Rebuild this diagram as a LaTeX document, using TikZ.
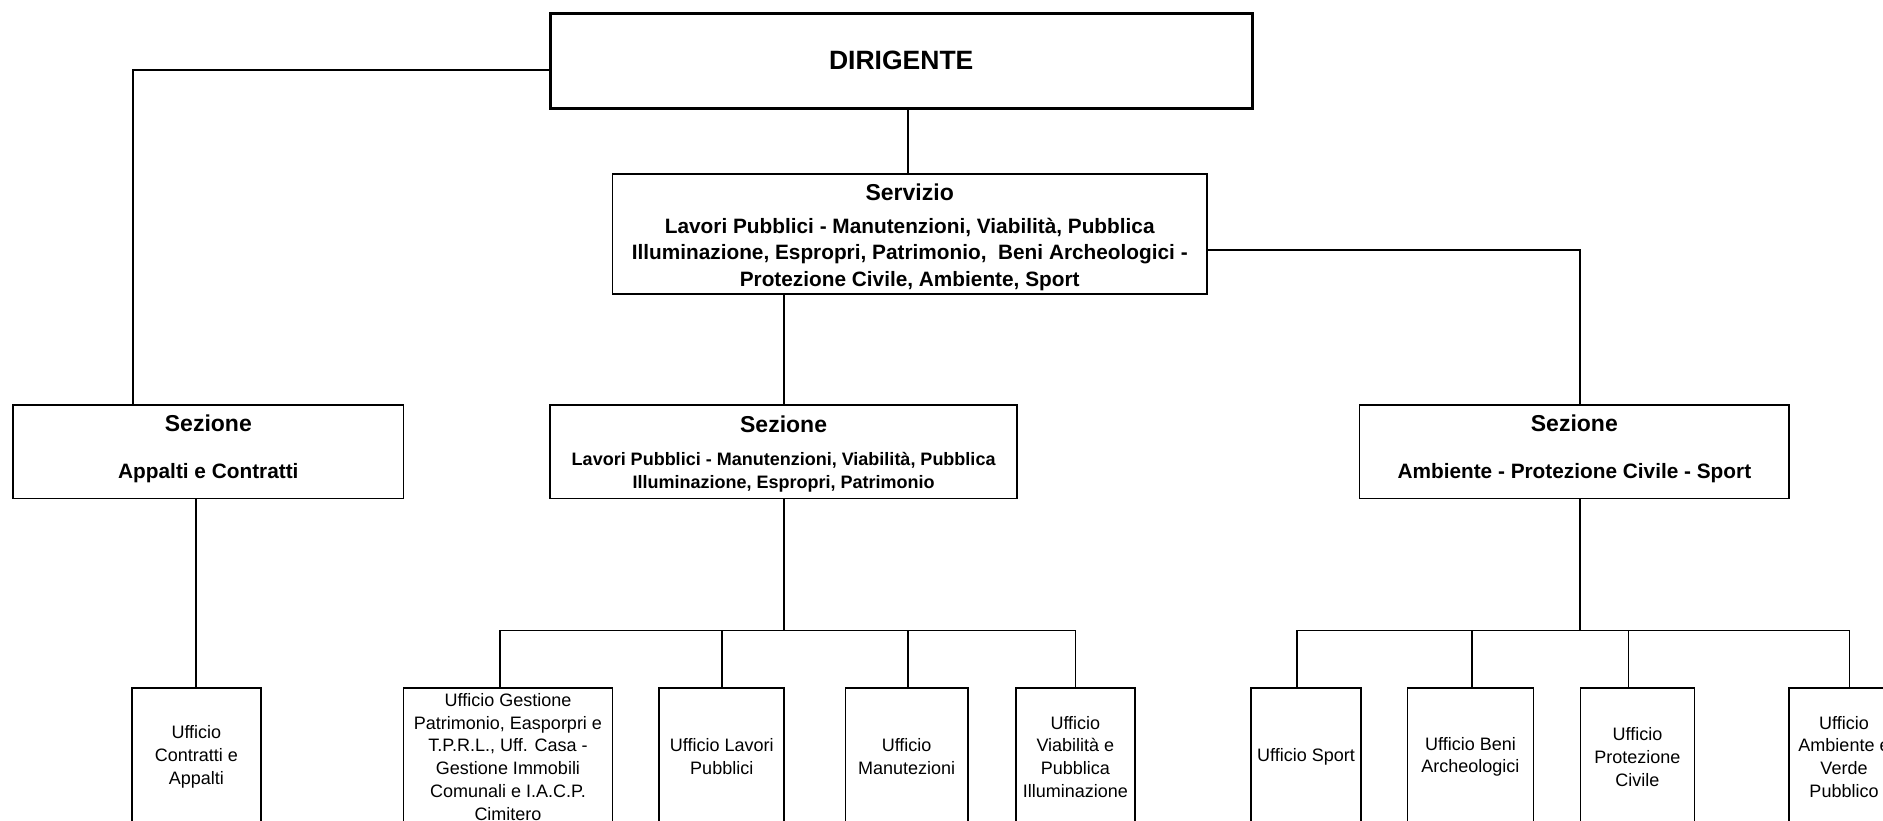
\documentclass[tikz,border=0pt]{standalone}
\usepackage{fontspec}
\setmainfont{Liberation Sans}
\newcommand\boxtitle[1]{{\fontsize{23}{26}\selectfont #1}}
\begin{document}
\begin{tikzpicture}[x=1pt,y=-1pt,
  box/.style={draw, line width=1.8pt, inner sep=0pt, align=center},
  dirbox/.style={box, line width=3pt, font=\fontsize{26.5}{30}\selectfont\bfseries},
  servbox/.style={box, font=\fontsize{20.8}{26.2}\selectfont\bfseries},
  sezbox/.style={box, minimum height=93.7pt, font=\fontsize{20.8}{26.2}\selectfont\bfseries},
  sezsmall/.style={sezbox, font=\fontsize{18}{22.6}\selectfont\bfseries},
  uff/.style={box, minimum height=137.4pt, font=\fontsize{18}{22.8}\selectfont},
  conn/.style={line width=1.8pt}]
\useasboundingbox (0,0) rectangle (1883,821);
\fill[white] (0,0) rectangle (1883,821);
\clip (0,0) rectangle (1883,821);

% top level
\node[dirbox, minimum width=702.5pt, minimum height=94.9pt] (dir) at (901.25,60.65) {DIRIGENTE};
\node[servbox, minimum width=594.4pt, minimum height=120.1pt] (serv) at (909.7,234.15)
  {\boxtitle{\rule{0pt}{22.8pt}Servizio}\\[6.8pt]
   Lavori Pubblici - Manutenzioni, Viabilità, Pubblica\\
   Illuminazione, Espropri, Patrimonio, \ Beni Archeologici -\\
   Protezione Civile, Ambiente, Sport};

% sezioni
\node[sezbox, minimum width=390.3pt] (sezApp) at (208.35,451.55)
  {\boxtitle{Sezione}\\[20.9pt] Appalti e Contratti\rule[-9.1pt]{0pt}{0pt}};
\node[sezsmall, minimum width=467.2pt] (sezLP) at (783.6,451.55)
  {\boxtitle{\rule{0pt}{20.9pt}Sezione}\\[10.7pt]
   Lavori Pubblici - Manutenzioni, Viabilità, Pubblica\\
   Illuminazione, Espropri, Patrimonio};
\node[sezbox, minimum width=429.9pt] (sezAmb) at (1574.35,451.55)
  {\boxtitle{Sezione}\\[20.9pt] Ambiente - Protezione Civile - Sport\rule[-9.1pt]{0pt}{0pt}};

% uffici
\node[uff, minimum width=128.5pt] (uffCon) at (196.35,756.8) {Ufficio\\Contratti e\\Appalti};
\node[uff, minimum width=209pt] (uffGest) at (508,756.8)
  {Ufficio Gestione\\Patrimonio, Easporpri e\\T.P.R.L., Uff. Casa -\\Gestione Immobili\\Comunali e I.A.C.P.\\Cimitero};
\node[uff, minimum width=124.9pt] (uffLP) at (721.75,756.8) {Ufficio Lavori\\Pubblici};
\node[uff, minimum width=122.5pt] (uffMan) at (906.65,756.8) {Ufficio\\Manutezioni};
\node[uff, minimum width=118.8pt] (uffViab) at (1075.4,756.8) {Ufficio\\Viabilità e\\Pubblica\\Illuminazione};
\node[uff, minimum width=109.3pt] (uffSport) at (1305.95,756.8) {Ufficio Sport};
\node[uff, minimum width=126.1pt] (uffBeni) at (1470.45,756.8) {Ufficio Beni\\Archeologici};
\node[uff, minimum width=114.1pt] (uffProt) at (1637.45,756.8) {Ufficio\\Protezione\\Civile};
\node[uff, minimum width=110pt] (uffAmb) at (1844,756.8) {Ufficio\\Ambiente e\\Verde\\Pubblico};

% bus coordinates
\coordinate (busA) at (783.6,630.5);
\coordinate (busB) at (1580.35,630.5);

% connectors
\draw[conn] ([yshift=-9pt]dir.west) -| ([xshift=-75pt]sezApp.north);
\draw[conn] ([xshift=6.6pt]dir.south) -- ([xshift=6.6pt]dir.south |- serv.north);
\draw[conn] ([yshift=-15.65pt]serv.east) -| ([xshift=6pt]sezAmb.north);
\draw[conn] (serv.south -| sezLP.north) -- (sezLP.north);
\draw[conn] (sezApp.south -| uffCon.north) -- (uffCon.north);

\draw[conn] (sezLP.south) -- (sezLP.south |- busA);
\draw[conn] ([xshift=-8.4pt]uffGest.north) |- (uffViab.north |- busA) -- (uffViab.north);
\draw[conn] (uffLP.north) -- (uffLP.north |- busA);
\draw[conn] ([xshift=1.2pt]uffMan.north) -- ([xshift=1.2pt]uffMan.north |- busA);

\draw[conn] ([xshift=6pt]sezAmb.south) -- ([xshift=6pt]sezAmb.south |- busB);
\draw[conn] ([xshift=-8.95pt]uffSport.north) |- ([xshift=5.4pt]uffAmb.north |- busB) -- ([xshift=5.4pt]uffAmb.north);
\draw[conn] ([xshift=1.85pt]uffBeni.north) -- ([xshift=1.85pt]uffBeni.north |- busB);
\draw[conn] ([xshift=-9pt]uffProt.north) -- ([xshift=-9pt]uffProt.north |- busB);
\end{tikzpicture}
\end{document}
